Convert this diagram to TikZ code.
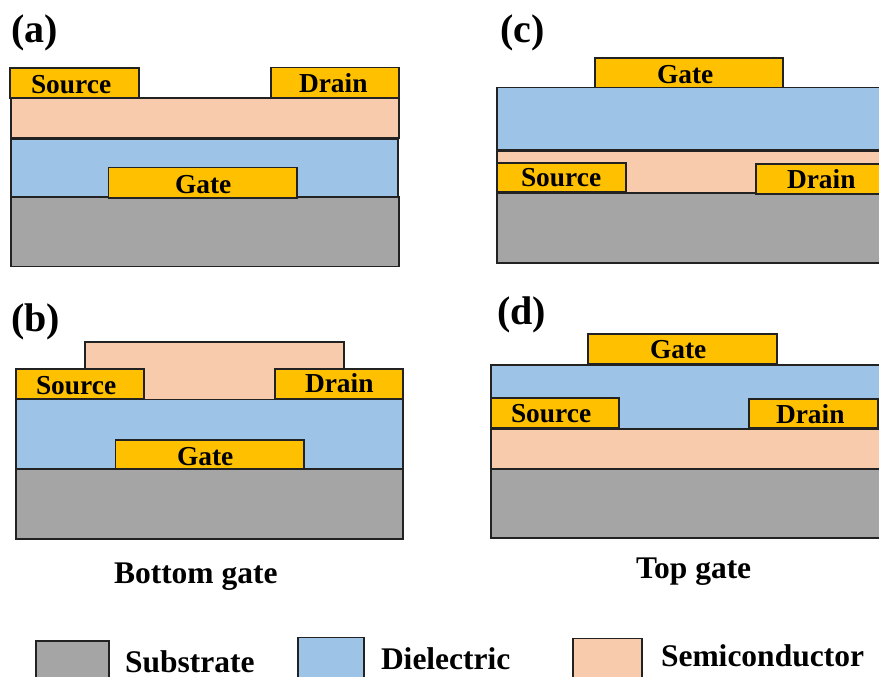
\documentclass[tikz,border=0pt]{standalone}
\usepackage{fontspec}
\setmainfont{Liberation Serif}
\definecolor{subc}{HTML}{A5A5A5}
\definecolor{dielc}{HTML}{9DC3E6}
\definecolor{semic}{HTML}{F7CBAC}
\definecolor{goldc}{HTML}{FFC000}
\definecolor{linec}{HTML}{222222}
\tikzset{
  lay/.style={draw=linec,line width=1.3pt},
  substrate/.style={lay,fill=subc},
  dielectric/.style={lay,fill=dielc},
  semicond/.style={lay,fill=semic},
  contact/.style={lay,fill=goldc},
  txt/.style={anchor=base west,inner sep=0pt,outer sep=0pt,text=black,font=\bfseries},
  elec/.style={txt,font=\fontsize{27.4}{30}\selectfont\bfseries},
  captext/.style={txt,font=\fontsize{31.5}{34}\selectfont\bfseries},
  panel/.style={txt,font=\fontsize{40}{44}\selectfont\bfseries}
}
\begin{document}
\begin{tikzpicture}[x=1pt,y=-1pt]
\useasboundingbox (0,0) rectangle (879,677);
\clip (0,0) rectangle (879,677);
% (a)
\draw[substrate] (11,197) rectangle (399,266.5);
\draw[dielectric] (11,139) rectangle (398,197);
\draw[semicond] (11,98) rectangle (399,138);
\draw[contact] (108.5,167.5) rectangle (297,198);
\draw[contact] (10,68) rectangle (139,98);
\draw[contact] (271,67.5) rectangle (399,98);
\node[panel] (pa) at (11,43) {(a)};
\node[elec] (sa) at (31,93.7) {Source};
\node[elec] (da) at (299,92.9) {Drain};
\node[elec] (ga) at (175,193.2) {Gate};
% (c)
\draw[substrate] (497,193) rectangle (885,263);
\draw[dielectric] (497,87.5) rectangle (885,150);
\draw[semicond] (497,151) rectangle (885,193);
\draw[contact] (595,58) rectangle (783,87.5);
\draw[contact] (497.5,163) rectangle (626,192);
\draw[contact] (756,164) rectangle (885,194);
\node[panel] (pc) at (500,43) {(c)};
\node[elec] (gc) at (657,83.2) {Gate};
\node[elec] (sc) at (521,186.2) {Source};
\node[elec] (dc) at (787,188.7) {Drain};
% (b)
\draw[substrate] (16,469) rectangle (403,539);
\draw[dielectric] (16,399) rectangle (403,469);
\draw[semicond] (85,342) rectangle (344,399.5);
\draw[contact] (115.5,440) rectangle (304,469);
\draw[contact] (16,369) rectangle (144,399);
\draw[contact] (275,369) rectangle (403,399);
\node[panel] (pb) at (11,331) {(b)};
\node[elec] (sb) at (36,394.9) {Source};
\node[elec] (db) at (305,392.9) {Drain};
\node[elec] (gb) at (177,465.2) {Gate};
\node[captext] (cb) at (114,583.5) {Bottom gate};
% (d)
\draw[substrate] (491,469) rectangle (885,538);
\draw[semicond] (491,429) rectangle (885,469);
\draw[dielectric] (491,365) rectangle (885,429);
\draw[contact] (588,334) rectangle (777,363.5);
\draw[contact] (491,398) rectangle (619,428);
\draw[contact] (749,399) rectangle (878,428);
\node[panel] (pd) at (497,324) {(d)};
\node[elec] (gd) at (650,358.2) {Gate};
\node[elec] (sd) at (511,422.9) {Source};
\node[elec] (dd) at (776,423) {Drain};
\node[captext] (cd) at (636,578.5) {Top gate};
% legend
\draw[substrate] (36,641) rectangle (109,690);
\draw[dielectric] (298,637.5) rectangle (364,690);
\draw[semicond] (573,638.5) rectangle (642,690);
\node[captext] (ls) at (125,672.6) {Substrate};
\node[captext] (ld) at (381,669.7) {Dielectric};
\node[captext] (lm) at (661,666.5) {Semiconductor};
\end{tikzpicture}
\end{document}
